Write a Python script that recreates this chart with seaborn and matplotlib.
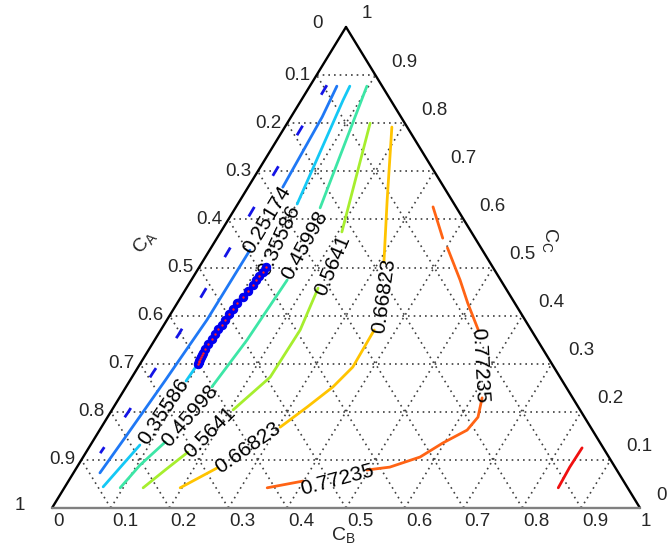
import numpy as np
import pandas as pd
import matplotlib
matplotlib.use("Agg")
import matplotlib.pyplot as plt
import seaborn as sns

sns.set_style("white")
plt.rcParams["font.family"] = ["Liberation Sans", "DejaVu Sans"]
plt.rcParams["mathtext.default"] = "regular"

# ---------------- data (ternary: C_B, C_C ; C_A = 1 - C_B - C_C) ----------------
tick_vals = [0.0, 0.1, 0.2, 0.3, 0.4, 0.5, 0.6, 0.7, 0.8, 0.9, 1.0]
tick_labels = ["0", "0.1", "0.2", "0.3", "0.4", "0.5", "0.6", "0.7", "0.8", "0.9", "1"]

# dashed (unlabelled) lowest line
dash_b = [[0.028, 0.029, 0.030, 0.033, 0.035, 0.031, 0.030, 0.025]]
dash_c = [[0.879, 0.786, 0.699, 0.516, 0.360, 0.281, 0.200, 0.114]]

# contour 0.25174
l1_b = [[0.046, 0.053, 0.059], [0.0685, 0.068, 0.063, 0.060, 0.051, 0.045]]
l1_c = [[0.877, 0.813, 0.667], [0.536, 0.391, 0.314, 0.266, 0.146, 0.073]]
l1_lab_b, l1_lab_c, l1_rot = [0.066], [0.600], [59]

# contour 0.35586
l2_b = [[0.068, 0.071, 0.101], [0.113, 0.104, 0.099, 0.097, 0.098, 0.096], [0.084, 0.065]]
l2_c = [[0.877, 0.848, 0.632], [0.495, 0.430, 0.380, 0.320, 0.297, 0.264], [0.131, 0.044]]
l2_lab_b, l2_lab_c, l2_rot = [0.109, 0.090], [0.556, 0.200], [65, 56]

# contour 0.45998
l3_b = [[0.097, 0.144], [0.163, 0.157, 0.146], [0.124, 0.105, 0.095]]
l3_c = [[0.877, 0.624], [0.474, 0.349, 0.252], [0.137, 0.089, 0.042]]
l3_lab_b, l3_lab_c, l3_rot = [0.157, 0.139], [0.547, 0.191], [61, 49]

# contour 0.5641
l4_b = [[0.141, 0.187, 0.206], [0.224, 0.237, 0.235, 0.206], [0.173, 0.153, 0.134]]
l4_c = [[0.800, 0.640, 0.574], [0.457, 0.370, 0.272, 0.204], [0.116, 0.079, 0.042]]
l4_lab_b, l4_lab_c, l4_rot = [0.225, 0.191], [0.505, 0.156], [67, 45]

# contour 0.66823
l5_b = [[0.182, 0.250, 0.309], [0.363, 0.365, 0.352, 0.329, 0.304], [0.239, 0.197]]
l5_c = [[0.792, 0.640, 0.511], [0.370, 0.293, 0.252, 0.210, 0.168], [0.083, 0.042]]
l5_lab_b, l5_lab_c, l5_rot = [0.344, 0.271], [0.441, 0.125], [82, 35]

# contour 0.77235
l6_b = [[0.335, 0.384], [0.402, 0.457, 0.494, 0.540],
        [0.617, 0.630, 0.625, 0.597, 0.573, 0.532, 0.496], [0.399, 0.345]]
l6_c = [[0.626, 0.561], [0.541, 0.474, 0.426, 0.370],
        [0.229, 0.189, 0.162, 0.135, 0.106, 0.085, 0.079], [0.056, 0.042]]
l6_lab_b, l6_lab_c, l6_rot = [0.579, 0.456], [0.297, 0.058], [-87, 15]

# highest (unlabelled) line
l7_b = [[0.839, 0.838, 0.840]]
l7_c = [[0.125, 0.085, 0.042]]

contour_labels = ["0.25174", "0.35586", "0.45998", "0.5641", "0.66823", "0.77235"]

# trajectory points
pts_b = [0.113, 0.114, 0.111, 0.110, 0.110, 0.108, 0.106, 0.102, 0.101, 0.099, 0.099,
         0.099, 0.096, 0.096, 0.096, 0.095, 0.095, 0.096, 0.096, 0.097, 0.099,
         0.098, 0.097, 0.096]
pts_c = [0.501, 0.491, 0.482, 0.474, 0.464, 0.451, 0.439, 0.426, 0.414, 0.403, 0.391,
         0.381, 0.372, 0.362, 0.351, 0.341, 0.331, 0.322, 0.314, 0.306, 0.299,
         0.303, 0.310, 0.318]

# ---------------- drawing ----------------
def proj(b, c):
    b = np.asarray(b, float)
    c = np.asarray(c, float)
    return b + c / 2.0, c

fig = plt.figure(figsize=(6.68, 5.5), dpi=100)
fig.patch.set_facecolor("white")
ax = fig.add_axes([52 / 668, 42 / 550, 588 / 668, 481 / 550])
ax.set_xlim(0, 1)
ax.set_ylim(0, 1)
ax.axis("off")
PX, PY = 1 / 588, 1 / 481

# dotted grid
gkw = dict(color="#404040", lw=1.2, linestyle=(0, (1, 2.4)), zorder=1, clip_on=False)
for t in tick_vals[1:-1]:
    ax.plot([t / 2, 1 - t / 2], [t, t], **gkw)
    ax.plot([t, t + (1 - t) / 2], [0, 1 - t], **gkw)
    ax.plot([1 - t, (1 - t) / 2], [0, 1 - t], **gkw)

# triangle
ax.plot([0, 0.5], [0, 1], color="black", lw=1.7, zorder=6, clip_on=False, solid_capstyle="round")
ax.plot([1, 0.5], [0, 1], color="black", lw=1.7, zorder=6, clip_on=False, solid_capstyle="round")
ax.plot([0, 1], [0, 0], color="#808080", lw=1.7, zorder=6, clip_on=False)

def draw_segments(bs, cs, color, **kw):
    for b, c in zip(bs, cs):
        x, y = proj(b, c)
        df = pd.DataFrame({"x": x, "y": y})
        sns.lineplot(data=df, x="x", y="y", sort=False, estimator=None,
                     color=color, ax=ax, legend=False, zorder=3, **kw)

draw_segments(dash_b, dash_c, "#1414e6", lw=2.0, linestyle=(0, (4.0, 13.0)))
series = [(l1_b, l1_c, "#1f78f5", l1_lab_b, l1_lab_c, l1_rot),
          (l2_b, l2_c, "#14c8f5", l2_lab_b, l2_lab_c, l2_rot),
          (l3_b, l3_c, "#3de6a6", l3_lab_b, l3_lab_c, l3_rot),
          (l4_b, l4_c, "#a6ee2e", l4_lab_b, l4_lab_c, l4_rot),
          (l5_b, l5_c, "#ffc400", l5_lab_b, l5_lab_c, l5_rot),
          (l6_b, l6_c, "#ff6314", l6_lab_b, l6_lab_c, l6_rot)]
for (bs, cs, col, lb, lc, rots), txt in zip(series, contour_labels):
    draw_segments(bs, cs, col, lw=2.0)
    lx, ly = proj(lb, lc)
    for x, y, r in zip(lx, ly, rots):
        ax.text(x, y, txt, rotation=r, rotation_mode="anchor", ha="center",
                va="center", fontsize=15, color="black", zorder=4)
draw_segments(l7_b, l7_c, "#f01010", lw=2.0)

# trajectory markers
px_, py_ = proj(pts_b, pts_c)
sns.scatterplot(x=px_, y=py_, s=36, color="#0000f0", edgecolor="#0000f0",
                linewidth=0.8, ax=ax, zorder=5, legend=False)
sns.scatterplot(x=px_, y=py_, s=3, color="#ff2020", linewidth=0, ax=ax,
                zorder=6, legend=False)

# tick labels
fs = 13.5
for v, lab in zip(tick_vals, tick_labels):
    # left (C_A): C_A = v on the left edge -> C_C = 1 - v
    c = 1 - v
    if v == 0:
        ax.text(0.5 - 23 * PX, 1 + 4 * PY, lab, ha="right", va="center", fontsize=fs)
    elif v == 1:
        ax.text(-27 * PX, 2 * PY, lab, ha="right", va="center", fontsize=fs)
    else:
        ax.text(c / 2 - 6 * PX, c, lab, ha="right", va="center", fontsize=fs)
    # right (C_C)
    ax.text(1 - v / 2 + 16 * PX, v + 13 * PY, lab, ha="left", va="center", fontsize=fs)
    # bottom (C_B)
    ax.text(v + 1 * PX, -13 * PY, lab, ha="left", va="center", fontsize=fs)

# axis titles
ax.text(0.1565, 0.553, r"C$_A$", rotation=50, rotation_mode="anchor",
        ha="center", va="center", fontsize=14)
ax.text(0.847, 0.557, r"C$_C$", rotation=-90, rotation_mode="anchor",
        ha="center", va="center", fontsize=14)
ax.text(0.495, -0.056, r"C$_B$", ha="center", va="center", fontsize=14)

fig.savefig("out.png", dpi=100, facecolor="white")
